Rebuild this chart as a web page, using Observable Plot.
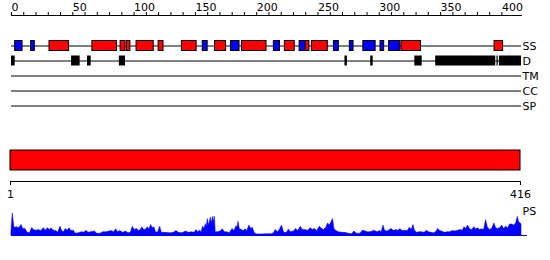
<!DOCTYPE html>
<html>
<head>
<meta charset="utf-8">
<script src="https://cdn.jsdelivr.net/npm/d3@7"></script>
<script src="https://cdn.jsdelivr.net/npm/@observablehq/plot@0.6"></script>
<style>
  html, body { margin: 0; padding: 0; background: #fff; }
  #chart { width: 550px; height: 260px; overflow: hidden; }
  #chart svg { display: block; }
</style>
</head>
<body>
<div id="chart"></div>
<script>
// ---------------- data ----------------
const seqLength = 416;
const tracks = ["SS", "D", "TM", "CC", "SP"];
const axisTicks = d3.range(0, 401, 10);
const rulerLabels = [1, seqLength];

// secondary structure: H = helix (red), E = strand (blue)
const ssStart = [4, 17, 32, 67, 90, 95, 103, 121, 140, 157, 167, 180, 189, 215, 224, 236, 241, 246, 264, 277, 288, 302, 309, 319, 395];
const ssEnd   = [9, 19, 47, 86, 93, 97, 116, 124, 151, 160, 175, 186, 208, 219, 231, 240, 243, 258, 267, 279, 297, 304, 317, 334, 401];
const ssType  = ["E","E","H","H","H","H","H","H","H","E","H","E","H","E","H","E","H","H","E","E","E","E","E","H","H"];

// disordered regions
const disStart = [1, 50, 63, 89, 273, 294, 330, 347, 397, 399];
const disEnd   = [3, 56, 65, 93, 274, 295, 335, 395, 397, 416];

// domain bar
const domainStart = [1];
const domainEnd = [seqLength];

// PS profile: [residue, score]
const psProfile = [
  [0,0.2],[1,1.0],[2.4,0.35],[4.6,0.37],[6.3,0.33],[8.2,0.48],[9.5,0.3],[11.4,0.3],[13.3,0.12],[15,0.1],
  [16.9,0.34],[18.2,0.25],[20.4,0.22],[22.3,0.25],[24.2,0.2],[26.4,0.33],[28,0.22],[29.6,0.33],[31.3,0.25],[32.6,0.33],
  [34.5,0.22],[36.7,0.2],[38,0.12],[40,0.4],[41.3,0.2],[42.7,0.15],[44.3,0.3],[45.7,0.22],[47.3,0.33],[48.9,0.2],
  [50.8,0.22],[52.5,0.08],[54.9,0.1],[57.6,0.15],[59.5,0.13],[61.2,0.22],[62.8,0.12],[65,0.15],[68,0.18],[69.9,0.08],
  [72.6,0.08],[74.8,0.15],[77.5,0.15],[79.4,0.17],[81.6,0.2],[83.5,0.15],[85.4,0.28],[87,0.15],[88.9,0.2],[91.1,0.12],
  [93.3,0.18],[95.4,0.1],[97.3,0.12],[99,0.4],[100.3,0.25],[102.2,0.3],[104.1,0.2],[105.5,0.25],[106.6,0.37],[108.2,0.25],
  [109.8,0.27],[111.2,0.37],[112.6,0.27],[113.9,0.48],[115.3,0.33],[116.6,0.37],[118,0.12],[119.6,0.15],[121.3,0.4],[122.6,0.12],
  [125.6,0.12],[129.7,0.1],[132.4,0.12],[134.6,0.2],[136.5,0.12],[139.2,0.1],[142.5,0.18],[144.6,0.12],[147.4,0.15],[149.3,0.12],
  [150.9,0.25],[152.3,0.15],[153.6,0.22],[155,0.15],[156.3,0.4],[157.4,0.3],[158.5,0.52],[159.3,0.35],[160.1,0.75],[161.2,0.45],
  [162.6,0.82],[163.4,0.55],[164.5,0.85],[165.3,0.6],[165.9,0.85],[166.6,0.15],[168.3,0.15],[170.5,0.18],[172.4,0.28],[174,0.15],
  [175.9,0.15],[178,0.1],[180.3,0.3],[181.9,0.2],[183.5,0.42],[184.3,0.35],[185.2,0.62],[186.2,0.3],[187.9,0.25],[189.5,0.2],
  [190.9,0.28],[192.2,0.2],[194.1,0.45],[195.5,0.3],[196.8,0.35],[198.5,0.1],[200.4,0.05],[204.5,0.05],[208.5,0.06],[212.6,0.06],
  [214.5,0.13],[215.3,0.25],[217.5,0.15],[219.1,0.28],[220.7,0.45],[222.4,0.12],[224.8,0.12],[226.2,0.27],[227.8,0.15],[230.3,0.18],
  [232.2,0.3],[233.8,0.2],[236,0.4],[237.6,0.25],[239.8,0.25],[242,0.22],[244.1,0.33],[245.8,0.25],[247.4,0.3],[249.3,0.2],
  [251.5,0.4],[253.4,0.3],[255,0.25],[256.6,0.35],[258.3,0.55],[259.6,0.45],[261,0.6],[262.3,0.75],[263.4,0.3],[265,0.2],
  [267,0.15],[269.7,0.12],[272.4,0.12],[275.1,0.08],[277.8,0.06],[279.7,0.18],[281.9,0.08],[284.6,0.08],[286.5,0.22],[288.2,0.2],
  [290.3,0.15],[292.8,0.15],[294.7,0.18],[296.3,0.22],[298.5,0.15],[300.7,0.2],[302,0.15],[303.4,0.45],[304.8,0.2],[306.9,0.18],
  [308.6,0.25],[310.2,0.3],[311.8,0.2],[313.7,0.25],[315.4,0.22],[317.3,0.28],[319.2,0.2],[321.3,0.22],[323.2,0.2],[324.9,0.35],
  [326.5,0.25],[327.9,0.48],[329,0.22],[330.9,0.12],[332.8,0.15],[334.9,0.15],[336.8,0.12],[339,0.22],[340.6,0.15],[342.5,0.12],
  [344.7,0.1],[346.3,0.15],[348,0.3],[349.6,0.2],[351.2,0.18],[353.4,0.12],[355.6,0.15],[357.8,0.15],[359.9,0.2],[362.1,0.18],
  [364.3,0.22],[366.2,0.25],[368.1,0.22],[369.5,0.38],[370.8,0.3],[372.4,0.45],[374.1,0.28],[375.7,0.25],[377.6,0.38],[379,0.27],
  [380.6,0.33],[382.2,0.25],[383.9,0.28],[385.5,0.25],[387.1,0.7],[388.5,0.38],[390.1,0.25],[392,0.3],[393.9,0.55],[395.3,0.33],
  [396.9,0.3],[398.6,0.33],[400.2,0.45],[401.8,0.3],[403.4,0.4],[405.1,0.33],[406.7,0.5],[408.3,0.5],[410,0.45],[411.6,0.55],
  [413,0.85],[414,0.6],[415.4,0.55],[416,0.5]
];

// ---------------- build ----------------
const ssData = ssStart.map((s, i) => ({track: "SS", start: s, end: ssEnd[i], type: ssType[i]}));
const disData = disStart.map((s, i) => ({track: "D", start: s, end: disEnd[i]}));
const domainData = domainStart.map((s, i) => ({start: s, end: domainEnd[i]}));
const psData = psProfile.map(([r, v]) => ({r, v}));

const font = {fontFamily: "'DejaVu Sans', sans-serif", fontSize: "11px", background: "white", color: "black", overflow: "visible"};
const chartEl = document.getElementById("chart");

// Top: ruler + feature tracks
const trackPlot = Plot.plot({
  width: 550, height: 140,
  marginTop: 15, marginLeft: 11, marginRight: 29, marginBottom: 0,
  style: font,
  x: {domain: [0, seqLength], range: [11, 521], label: null},
  y: {type: "band", domain: tracks, range: [37.5, 112.5], padding: 0, axis: null, label: null},
  marks: [
    Plot.frame({anchor: "top", stroke: "black"}),
    Plot.axisX(axisTicks, {anchor: "top", tickSize: 4, tickPadding: 1, label: null,
      tickFormat: d => d % 50 === 0 ? String(d) : "", textAnchor: "start", fontSize: 11, stroke: "black", fill: "black"}),
    Plot.ruleY(tracks, {y: d => d, x1: 0, x2: seqLength, stroke: "black", strokeWidth: 1}),
    Plot.barX(ssData, {x1: d => d.start - 1, x2: "end", y: "track",
      fill: d => d.type === "H" ? "#ff0000" : "#0000ff", stroke: "black", strokeWidth: 1,
      insetTop: 2.5, insetBottom: 2.5}),
    Plot.barX(disData, {x1: d => d.start - 1, x2: "end", y: "track", fill: "black",
      insetTop: 2.5, insetBottom: 2.5}),
    Plot.text(tracks, {x: () => seqLength, y: d => d, text: d => d, textAnchor: "start", dx: 1, fontSize: 11, fill: "black"})
  ]
});
chartEl.appendChild(trackPlot);

// Middle: domain bar + sequence ruler
const domainPlot = Plot.plot({
  width: 550, height: 65,
  marginTop: 10, marginBottom: 24, marginLeft: 10, marginRight: 30,
  style: font,
  x: {domain: [1, seqLength], label: null},
  marks: [
    Plot.barX(domainData, {x1: "start", x2: "end", fill: "#ff0000", stroke: "black", strokeWidth: 1, insetBottom: 11}),
    Plot.frame({anchor: "bottom", stroke: "black"}),
    Plot.axisX(rulerLabels, {anchor: "bottom", tickSize: 4, tickPadding: 5, label: null, fontSize: 11, stroke: "black", fill: "black"})
  ]
});
chartEl.appendChild(domainPlot);

// Bottom: PS profile
const psPlot = Plot.plot({
  width: 550, height: 55,
  marginTop: 8, marginBottom: 25, marginLeft: 11, marginRight: 23,
  style: font,
  x: {domain: [0, seqLength], range: [11, 521], axis: null},
  y: {domain: [0, 1], axis: null},
  marks: [
    Plot.areaY(psData, {x: "r", y: "v", fill: "#0000ff", stroke: "#0000ff", strokeWidth: 0.5}),
    Plot.ruleY([0], {stroke: "#0000ff"}),
    Plot.text(["PS"], {x: () => seqLength, y: () => 1, text: d => d, textAnchor: "start", dx: 1, dy: -2, fontSize: 11, fill: "black"})
  ]
});
chartEl.appendChild(psPlot);
</script>
</body>
</html>
